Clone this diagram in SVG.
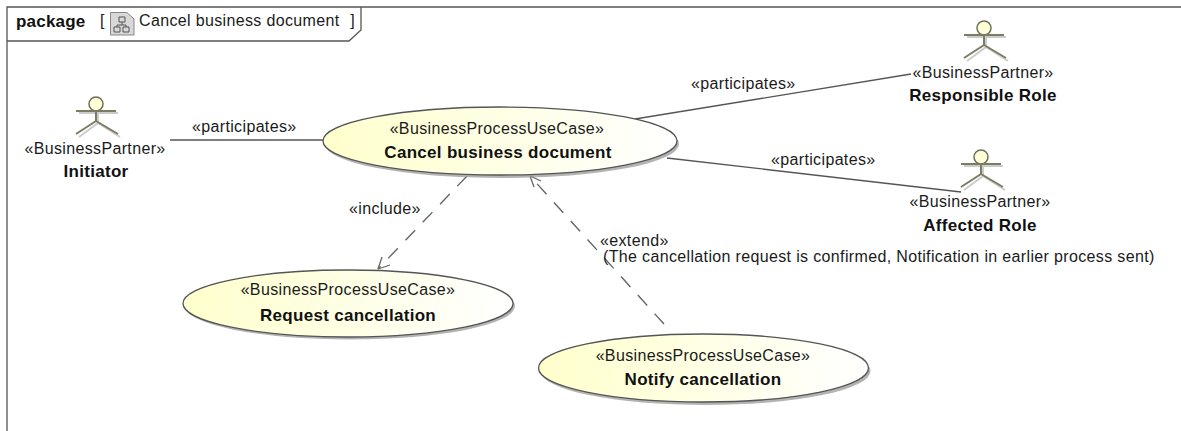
<svg xmlns="http://www.w3.org/2000/svg" width="1181" height="431" viewBox="0 0 1181 431">
<style>
text{font-family:"Liberation Sans",Arial,sans-serif;font-size:16px;letter-spacing:.35px;fill:#1a1a1a}
.b{font-weight:bold;font-size:17px;letter-spacing:.3px;fill:#111}
.m{text-anchor:middle}
.uc{fill:url(#g);stroke:#555;stroke-width:1.3}
.sh{fill:#9a9a9a;opacity:.75}
.ln{fill:none;stroke:#555;stroke-width:1.3}
.da{fill:none;stroke:#666;stroke-width:1.4;stroke-dasharray:14 11}
.ar{fill:none;stroke:#666;stroke-width:1.3}
.a{fill:none;stroke:#7c7c62;stroke-width:2}
.as{fill:none;stroke:#ccc;stroke-width:2}
.h{fill:#ffffd8;stroke:#6f6f58;stroke-width:1.5}
</style>
<defs>
<linearGradient id="g" x1="0" y1="0" x2="1" y2="0"><stop offset="0" stop-color="#ffffcc"/><stop offset="1" stop-color="#ffffff"/></linearGradient>
<g id="actor">
<path class="as" d="M2 14H41M21 8V24L2 38M21 24L43 38" transform="translate(2,2)"/>
<circle class="h" cx="21" cy="7" r="7"/>
<path class="a" d="M1 14H41M21 14V24L1 37M21 24L43 37"/>
</g>
</defs>
<rect width="1181" height="431" fill="#fff"/>
<g id="frame">
<path d="M7 431V7H1181" fill="none" stroke="#555" stroke-width="1.3"/>
<path d="M7 41H349L361 30V7" fill="none" stroke="#555" stroke-width="1.3"/>
<text x="16" y="27" class="b" style="letter-spacing:.2px">package</text>
<text x="100" y="26">[</text>
<path d="M110.500 12.500H127L134 19V35H110.500Z" fill="#d8d8d8" stroke="#888"/>
<path d="M119 17h6v5h-6zM114 27h6v5h-6zM123 27h6v5h-6zM122 22v3M117 27v-2h9v2" fill="none" stroke="#555"/>
<text x="139" y="26">Cancel business document</text>
<text x="355" y="26" text-anchor="end">]</text>
</g>
<g id="connectors">
<path class="ln" d="M170 140H323"/>
<path class="ln" d="M635 119L911 74"/>
<path class="ln" d="M667 158L961 192"/>
<path class="da" d="M467 176L378 269"/>
<path class="ar" d="M378 269L382 257M378 269L390 265"/>
<path class="da" d="M664 324L530 176"/>
<path class="ar" d="M530 176L534 187M530 176L541 181"/>
<text x="192" y="132">«participates»</text>
<text x="691" y="89">«participates»</text>
<text x="771" y="165">«participates»</text>
<text x="349" y="214">«include»</text>
<text x="600" y="246">«extend»</text>
<text x="603" y="262">(The cancellation request is confirmed, Notification in earlier process sent)</text>
</g>
<g id="initiator">
<use href="#actor" x="75" y="97"/>
<text x="95" y="154" class="m">«BusinessPartner»</text>
<text x="96" y="177" class="b m">Initiator</text>
</g>
<g id="responsible-role">
<use href="#actor" x="963" y="21"/>
<text x="983" y="78" class="m">«BusinessPartner»</text>
<text x="983" y="101" class="b m">Responsible Role</text>
</g>
<g id="affected-role">
<use href="#actor" x="960" y="150"/>
<text x="980" y="207" class="m">«BusinessPartner»</text>
<text x="980" y="231" class="b m">Affected Role</text>
</g>
<g id="cancel-business-document">
<ellipse class="sh" cx="502" cy="144" rx="177" ry="34"/>
<ellipse class="uc" cx="500" cy="141" rx="177" ry="34"/>
<text x="497" y="134" class="m">«BusinessProcessUseCase»</text>
<text x="498" y="158" class="b m">Cancel business document</text>
</g>
<g id="request-cancellation">
<ellipse class="sh" cx="350" cy="306" rx="165" ry="33.500"/>
<ellipse class="uc" cx="348" cy="303.500" rx="165" ry="33.500"/>
<text x="348" y="295" class="m">«BusinessProcessUseCase»</text>
<text x="348" y="321" class="b m">Request cancellation</text>
</g>
<g id="notify-cancellation">
<ellipse class="sh" cx="705.500" cy="371" rx="165" ry="34"/>
<ellipse class="uc" cx="703.500" cy="368" rx="165" ry="34"/>
<text x="703" y="361" class="m">«BusinessProcessUseCase»</text>
<text x="703" y="385" class="b m">Notify cancellation</text>
</g>
</svg>
